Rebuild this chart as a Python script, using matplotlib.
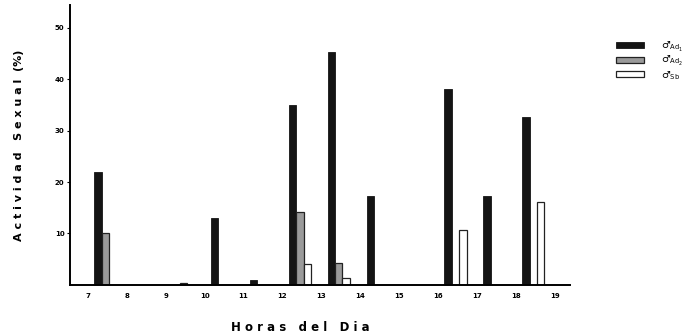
import matplotlib
matplotlib.use("Agg")
from matplotlib import pyplot as plt
import numpy as np

# horas del dia
horas = [7, 8, 9, 10, 11, 12, 13, 14, 15, 16, 17, 18, 19]
# actividad sexual (%) por categoria de macho
ad1 = [22, 0, 0, 13, 1, 35, 45.3, 17.2, 0, 38, 17.2, 32.7, 0]
ad2 = [10, 0, 0.4, 0, 0, 14.2, 4.2, 0, 0, 0, 0, 0, 0]
sb = [0, 0, 0, 0, 0, 4, 1.3, 0, 0, 10.6, 0, 16.2, 0]

etiquetas = ['\u2642$_{\\mathrm{Ad}_1}$', '\u2642$_{\\mathrm{Ad}_2}$', '\u2642$_{\\mathrm{Sb}}$']

fig = plt.figure(figsize=(6.94, 3.36), dpi=100)
ax = fig.add_axes([0.101, 0.152, 0.72, 0.833])

x = np.array(horas, dtype=float)
w = 0.19
b1 = ax.bar(x + 0.26, ad1, w, color='#141414', edgecolor='#141414', linewidth=0.6)
b2 = ax.bar(x + 0.45, ad2, w, color='#9a9a9a', edgecolor='#222222', linewidth=0.9)
b3 = ax.bar(x + 0.64, sb, w, color='white', edgecolor='#222222', linewidth=0.9)

ax.set_xlim(6.54, 19.39)
ax.set_ylim(0, 54.4)
ax.set_xticks(horas)
ax.set_xticklabels([str(h) for h in horas], fontsize=5, fontweight='bold')
ax.set_yticks([10, 20, 30, 40, 50])
ax.set_yticklabels(['10', '20', '30', '40', '50'], fontsize=5, fontweight='bold')
ax.tick_params(axis='x', length=0, pad=6)
ax.tick_params(axis='y', length=2, width=0.8, pad=2)

for s in ['top', 'right']:
	ax.spines[s].set_visible(False)
ax.spines['left'].set_linewidth(1.4)
ax.spines['bottom'].set_linewidth(1.4)

ax.set_xlabel('H o r a s   d e l   D i a', fontsize=8.5, fontweight='bold')
ax.xaxis.set_label_coords(0.46, -0.13)
ax.set_ylabel('A c t i v i d a d   S e x u a l  (%)', fontsize=8, fontweight='bold', labelpad=22)

leg = fig.legend([b1, b2, b3], etiquetas, loc='upper left', bbox_to_anchor=(0.876, 0.905),
	frameon=False, fontsize=7, handlelength=2.9, handleheight=0.6,
	labelspacing=0.05, handletextpad=1.8, borderpad=0.3)

fig.savefig('out.png', dpi=100)
